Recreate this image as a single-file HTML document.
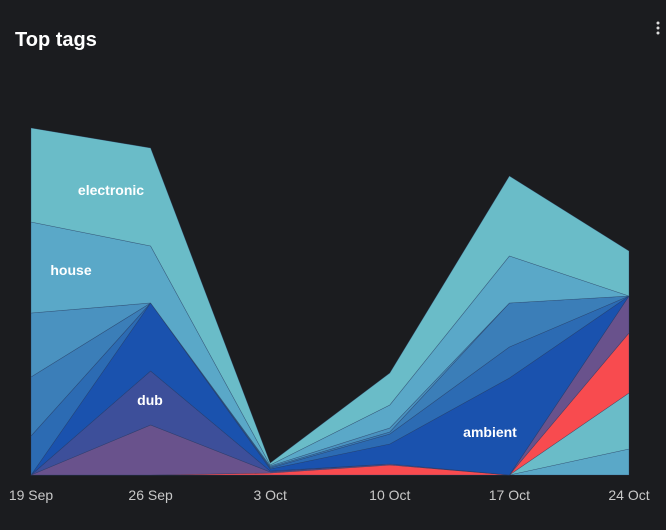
<!DOCTYPE html>
<html><head><meta charset="utf-8"><style>
body{margin:0;background:#1b1c1f;width:666px;height:530px;overflow:hidden;font-family:"Liberation Sans",sans-serif}
svg{position:absolute;left:0;top:0}
</style></head><body>
<svg width="666" height="530">
<text x="15" y="46" fill="#fff" font-size="20" font-weight="bold">Top tags</text>
<g fill="#ddd"><circle cx="658" cy="23" r="1.5"/><circle cx="658" cy="28" r="1.5"/><circle cx="658" cy="33" r="1.5"/></g>
<g id="layers"></g>
<g id="xaxis"></g>
<g id="labels" font-size="14" font-weight="bold" fill="#fff" text-anchor="middle"></g>
</svg>
<script>
const categories=["19 Sep","26 Sep","3 Oct","10 Oct","17 Oct","24 Oct"];
const seriesNames=["low-a","low-b","red","purple","dub","ambient","blue-a","blue-b","blue-c","house","electronic"];
const sLowA=[0,0,0,0,0,26];
const sLowB=[0,0,0,0,0,56];
const sRed=[0,0,2,10,0,60];
const sPurple=[0,50,1,1,0,37];
const sDub=[0,54,1,0,0,0];
const sAmbient=[0,68,2,20,97,0];
const sBlueA=[39,0,1,10,31,0];
const sBlueB=[59,0,1,2,44,0];
const sBlueC=[64,0,1,4,0,0];
const sHouse=[91,57,1,23,47,0];
const sElectronic=[94,98,2,32,80,45];
const series=[sLowA,sLowB,sRed,sPurple,sDub,sAmbient,sBlueA,sBlueB,sBlueC,sHouse,sElectronic];
const colors=["#5aa8c8","#6abcc8","#f84b4f","#69528c","#3d4f9a","#1a52ae","#2c6bb3","#3b7eb8","#4a92c0","#5aa8c8","#6abcc8"];
const x=i=>31+i*119.6;
const y=v=>475-v;
const NS="http://www.w3.org/2000/svg";
const lg=document.getElementById('layers');
let cum=categories.map(()=>0);
series.forEach((s,k)=>{
  const lo=cum.slice();const hi=cum.map((c,i)=>c+s[i]);
  let d="M"+hi.map((v,i)=>x(i)+","+y(v)).join(" L");
  for(let i=lo.length-1;i>=0;i--)d+=" L"+x(i)+","+y(lo[i]);
  d+="Z";
  const p=document.createElementNS(NS,'path');
  p.setAttribute('d',d);p.setAttribute('fill',colors[k]);
  p.setAttribute('stroke','rgba(40,60,100,0.5)');p.setAttribute('stroke-width','0.6');
  
  
  lg.appendChild(p);cum=hi;
});
const xa=document.getElementById('xaxis');
categories.forEach((c,i)=>{
  const t=document.createElementNS(NS,'text');
  t.setAttribute('x',x(i));t.setAttribute('y',500);t.setAttribute('fill','#c8c8c8');
  t.setAttribute('font-size','14');t.setAttribute('text-anchor','middle');t.textContent=c;
  
  
  xa.appendChild(t);
});
const lab=document.getElementById('labels');
[["electronic",111,195],["house",71,275],["dub",150,405],["ambient",490,437]].forEach(a=>{
  const t=document.createElementNS(NS,'text');
  t.setAttribute('x',a[1]);t.setAttribute('y',a[2]);t.textContent=a[0];
  
  
  lab.appendChild(t);
});
</script>
</body></html>
